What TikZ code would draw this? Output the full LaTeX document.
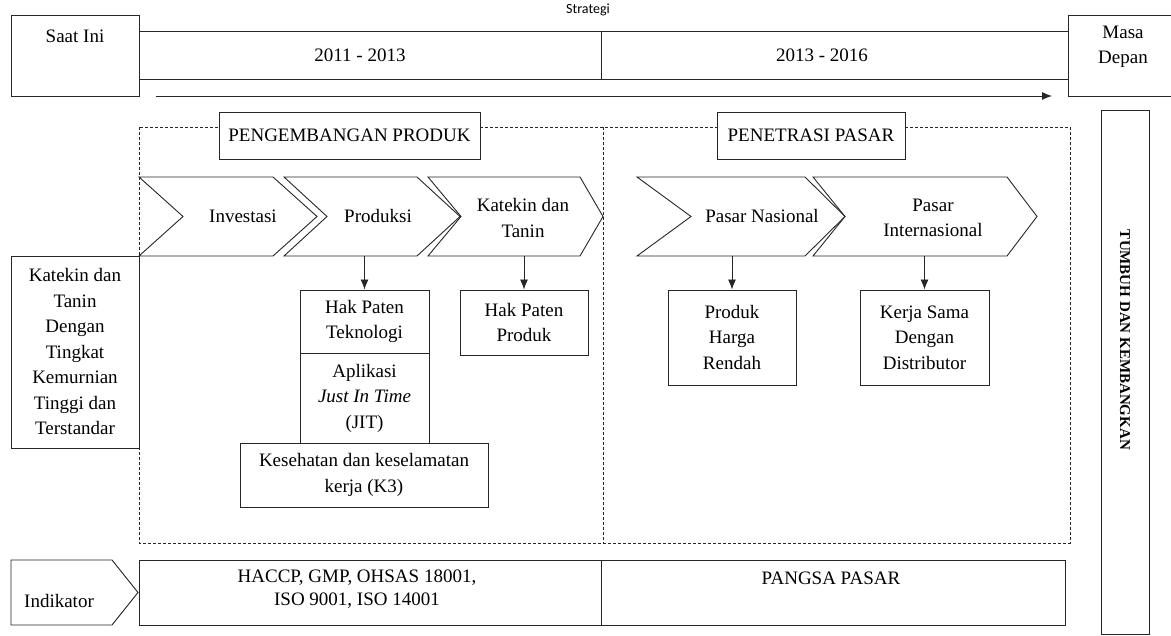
\documentclass[tikz,border=0pt]{standalone}
\usepackage{fontspec}
\setmainfont{Liberation Serif}
\newfontfamily\serifku{Liberation Serif}
\newfontfamily\judulfont{Carlito}
\usetikzlibrary{arrows.meta}
\newcommand{\RowTop}{177}
\newcommand{\RowMid}{216.5}
\newcommand{\RowBot}{256}

\begin{document}
\begin{tikzpicture}[x=1pt,y=-1pt,line width=0.9pt,color=black!85,
  font=\serifku\fontsize{19}{25.5}\selectfont,
  every node/.style={align=center,text=black},
  kotak/.style={draw,fill=white,inner sep=0pt},
  panah/.style={-{Latex[length=10pt,width=8pt]}},
  garis/.style={dash pattern=on 3pt off 2pt,line width=0.8pt}]

\useasboundingbox (0,0) rectangle (1171,636);

% saat ini / masa depan
\node[kotak,minimum width=128pt,minimum height=81pt] (saat) at (75,55.5) {};
\node (saatteks) at (75,36) {Saat Ini};
\node[kotak,minimum width=104pt,minimum height=81pt] (masa) at (1120,55.5) {};
\node (masateks) at (1123,47) {Masa\\Depan};

% strategi
\draw (139,31) -- (1068,31);
\draw (139,79) -- (1068,79);
\draw (601,31) -- (601,79);
\node[font=\judulfont\fontsize{14}{16}\selectfont] (strategi) at (588,10) {Strategi};
\node (per1) at (360,55) {2011 - 2013};
\node (per2) at (822,55) {2013 - 2016};

\coordinate (mulai) at (156,96);
\coordinate (akhir) at (1052,96);
\draw[panah] (mulai) -- (akhir);

% kotak putus-putus
\draw[garis] (139,127) rectangle (1070,543);
\draw[garis] (603,127) -- (603,543);
\node[kotak,minimum width=261pt,minimum height=47pt] (pengembangan) at (349.5,135.5) {PENGEMBANGAN PRODUK};
\node[kotak,minimum width=188pt,minimum height=47pt] (penetrasi) at (811,135.5) {PENETRASI PASAR};

% panah proses
\draw (139,\RowTop) -- (273,\RowTop) -- (317,\RowMid) -- (273,\RowBot) -- (139,\RowBot) -- (183,\RowMid) -- cycle;
\node (investasi) at (243,\RowMid) {Investasi};
\draw (284,\RowTop) -- (417,\RowTop) -- (460,\RowMid) -- (417,\RowBot) -- (284,\RowBot) -- (327,\RowMid) -- cycle;
\node (produksi) at (378,\RowMid) {Produksi};
\draw (428,\RowTop) -- (580,\RowTop) -- (603,\RowMid) -- (580,\RowBot) -- (428,\RowBot) -- (461,\RowMid) -- cycle;
\node (katekin) at (523,218) {Katekin dan\\Tanin};
\draw (637,\RowTop) -- (805,\RowTop) -- (845,\RowMid) -- (805,\RowBot) -- (637,\RowBot) -- (691,\RowMid) -- cycle;
\node (nasional) at (762,\RowMid) {Pasar Nasional};
\draw (813,\RowTop) -- (1007,\RowTop) -- (1037,\RowMid) -- (1007,\RowBot) -- (813,\RowBot) -- (845,\RowMid) -- cycle;
\node (internasional) at (933,218) {Pasar\\Internasional};

% hasil
\node[kotak,minimum width=128pt,minimum height=192pt] (hasil) at (75,352) {Katekin dan\\Tanin\\Dengan\\Tingkat\\Kemurnian\\Tinggi dan\\Terstandar};

\node[kotak,minimum width=129pt,minimum height=63pt] (teknologi) at (364.5,321.5) {Hak Paten\\Teknologi};
\node[kotak,minimum width=129pt,minimum height=90pt] (jit) at (364.5,398) {Aplikasi\\\textit{Just In Time}\\(JIT)};
\node[kotak,minimum width=248pt,minimum height=64pt] (kthree) at (364,475) {Kesehatan dan keselamatan\\kerja (K3)};
\node[kotak,minimum width=128pt,minimum height=65pt] (patenproduk) at (524,322.5) {Hak Paten\\Produk};
\node[kotak,minimum width=128pt,minimum height=95pt] (murah) at (732,337.5) {Produk\\Harga\\Rendah};
\node[kotak,minimum width=129pt,minimum height=95pt] (distributor) at (924.5,337.5) {Kerja Sama\\Dengan\\Distributor};

\coordinate (produksi-b) at (364.5,\RowBot);
\coordinate (katekin-b) at (524,\RowBot);
\coordinate (nasional-b) at (732,\RowBot);
\coordinate (internasional-b) at (924.5,\RowBot);
\draw[panah] (produksi-b) -- (teknologi.north);
\draw[panah] (katekin-b) -- (patenproduk.north);
\draw[panah] (nasional-b) -- (murah.north);
\draw[panah] (internasional-b) -- (distributor.north);

% indikator
\draw (11,560) -- (112,560) -- (138,592.5) -- (112,625) -- (11,625) -- cycle;
\node (indikator) at (59,601) {Indikator};
\node[kotak,minimum width=926pt,minimum height=65pt] (ukuran) at (602,592.5) {};
\draw (601,560) -- (601,625);
\node[font=\serifku\fontsize{19}{23}\selectfont] (haccp) at (357,589) {HACCP, GMP, OHSAS 18001,\\ISO 9001, ISO 14001};
\node (pangsa) at (831,578) {PANGSA PASAR};

% tumbuh
\node[kotak,minimum width=48pt,minimum height=524pt] (tumbuh) at (1125,372) {};
\node[rotate=-90,font=\serifku\bfseries\fontsize{15}{17}\selectfont] (tumbuhteks) at (1125,340) {TUMBUH DAN KEMBANGKAN};

\end{tikzpicture}
\end{document}
